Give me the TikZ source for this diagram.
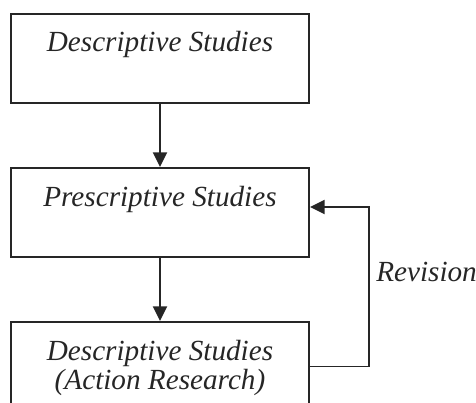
\documentclass[tikz,border=0pt]{standalone}
\usepackage{fontspec}
\setmainfont{Liberation Serif}
\usetikzlibrary{arrows.meta}
\begin{document}
\begin{tikzpicture}[x=0.75pt,y=-0.75pt,
  stagebox/.style={draw=black!85,line width=1.4pt,minimum width=223.5pt,minimum height=66.75pt,inner sep=0pt},
  stagetext/.style={font=\fontsize{21.9}{26}\selectfont\itshape,text=black!85,anchor=base,inner sep=0pt},
  flow/.style={draw=black!85,line width=1.4pt,-{Triangle[length=11pt,width=10.5pt]}}]
\useasboundingbox (0,0) rectangle (476,403);
\clip (0,0) rectangle (476,403);
% the three stages
\node[stagebox] (b1) at (160,58.5) {};
\node[stagebox] (b2) at (160,212.5) {};
\node[stagebox] (b3) at (160,366.5) {};
\node[stagetext] (t1) at (160,52) {Descriptive Studies};
\node[stagetext] (t2) at (160,207) {Prescriptive Studies};
\node[stagetext] (t3a) at (160,361) {Descriptive Studies};
\node[stagetext] (t3b) at (160,390) {(Action Research)};
% forward flow
\draw[flow] (b1) -- (b2);
\draw[flow] (b2) -- (b3);
% revision loop back to the prescriptive stage
\coordinate (rv) at (369,207);
\draw[flow] (b3.east) -| (rv) -- (b2.east |- rv);
\node[stagetext,anchor=base west] (rl) at (376,282) {Revision};
\end{tikzpicture}
\end{document}
